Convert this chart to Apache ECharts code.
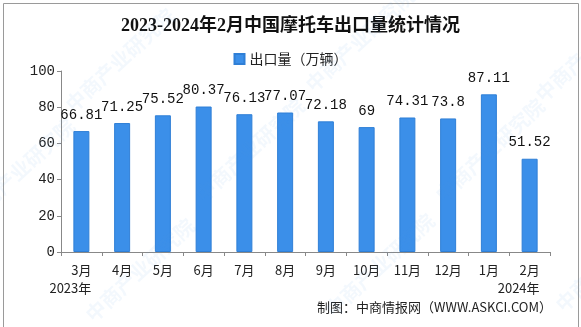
<!DOCTYPE html>
<html>
<head>
<meta charset="utf-8">
<script src="https://cdn.jsdelivr.net/npm/echarts@6/dist/echarts.min.js"></script>
<style>
  html, body { margin: 0; padding: 0; background: #fff; }
  #chart { width: 581px; height: 327px; }
</style>
</head>
<body>
<div id="chart"></div>
<script>
// Monthly motorcycle exports (10k units), Mar 2023 – Feb 2024
const months = ['3月', '4月', '5月', '6月', '7月', '8月', '9月', '10月', '11月', '12月', '1月', '2月'];
const exportVolume = [66.81, 71.25, 75.52, 80.37, 76.13, 77.07, 72.18, 69, 74.31, 73.8, 87.11, 51.52];
const yearTags = { 0: '2023年', 11: '2024年' };
const yTicks = [0, 20, 40, 60, 80, 100];

const chart = echarts.init(document.getElementById('chart'), null, { renderer: 'canvas' });

const cjk = '"Noto Sans CJK SC", "Noto Sans", sans-serif';
const mono = '"Liberation Mono", "DejaVu Sans Mono", monospace';

// faint diagonal brand watermark, tiled across the canvas
const watermarkSpots = [[120, 60], [360, 40], [590, 50], [250, 150], [490, 150], [20, 170], [140, 270], [380, 265], [610, 260]];
const watermarks = watermarkSpots.map(([x, y]) => ({
  type: 'text',
  x: x, y: y,
  rotation: Math.PI / 4.2,
  silent: true,
  z: 100,
  style: {
    text: '中商产业研究院',
    fontFamily: cjk,
    fontSize: 20,
    fontWeight: 'bold',
    fill: 'rgba(90,150,220,0.07)',
    align: 'center',
    verticalAlign: 'middle'
  }
}));

chart.setOption({
  backgroundColor: '#fff',
  animation: false,
  title: {
    text: '2023-2024年2月中国摩托车出口量统计情况',
    left: 'center',
    top: 12,
    textStyle: { fontFamily: '"Liberation Serif", "Noto Sans CJK SC", serif', fontSize: 18, fontWeight: 'bold', color: '#111' }
  },
  legend: {
    data: ['出口量（万辆）'],
    top: 47,
    left: 'center',
    itemWidth: 10,
    itemHeight: 10,
    itemGap: 4,
    icon: 'rect',
    textStyle: { fontFamily: cjk, fontSize: 14, color: '#222' }
  },
  grid: { left: 61, right: 31, top: 71, bottom: 75, containLabel: false },
  xAxis: {
    type: 'category',
    data: months,
    axisLine: { lineStyle: { color: '#888' } },
    axisTick: { show: true, length: 4, lineStyle: { color: '#888' } },
    axisLabel: {
      interval: 0,
      margin: 9,
      color: '#222',
      fontFamily: cjk,
      fontSize: 13,
      formatter: (v, i) => yearTags[i] ? '{m|' + v + '}\n{yr|' + yearTags[i] + '}' : '{m|' + v + '}',
      rich: {
        m: { align: 'center', fontFamily: cjk, fontSize: 13, color: '#222', lineHeight: 18 },
        yr: { align: 'left', fontFamily: cjk, fontSize: 13, color: '#222', lineHeight: 18, padding: [0, 22, 0, 0] }
      }
    }
  },
  yAxis: {
    type: 'value',
    min: yTicks[0],
    max: yTicks[yTicks.length - 1],
    interval: yTicks[1] - yTicks[0],
    axisLine: { show: true, lineStyle: { color: '#888' } },
    axisTick: { show: true, length: 4, lineStyle: { color: '#888' } },
    splitLine: { show: false },
    axisLabel: { margin: 6, color: '#222', fontFamily: mono, fontSize: 14 }
  },
  series: [{
    name: '出口量（万辆）',
    type: 'bar',
    data: exportVolume,
    barWidth: 16,
    itemStyle: {
      color: '#3b8fe9',
      borderColor: '#2f7fd6',
      borderWidth: 1
    },
    label: {
      show: true,
      position: 'top',
      distance: 9,
      color: '#111',
      fontFamily: mono,
      fontSize: 14
    }
  }],
  graphic: watermarks.concat([
    {
      type: 'text',
      right: 29,
      top: 301,
      style: { text: '制图：中商情报网（WWW.ASKCI.COM）', fontFamily: cjk, fontSize: 13, fill: '#222' }
    },
    {
      type: 'rect',
      left: 1, top: 1,
      shape: { width: 575, height: 324 },
      style: { fill: 'none', stroke: '#9a9a9a', lineWidth: 1 },
      silent: true
    }
  ])
});
</script>
</body>
</html>
